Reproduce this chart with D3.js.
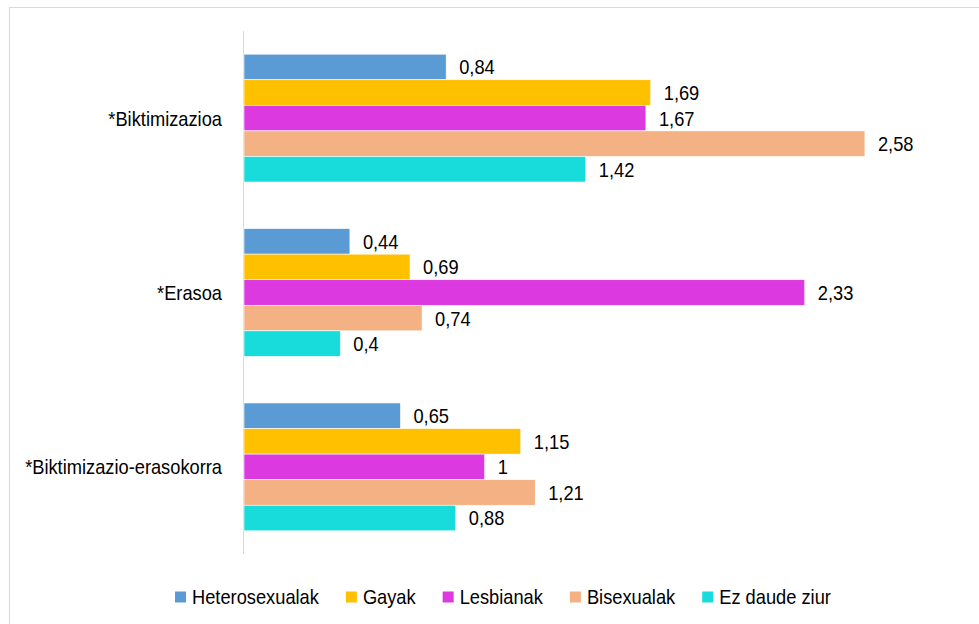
<!DOCTYPE html>
<html>
<head>
<meta charset="utf-8">
<script src="https://cdn.jsdelivr.net/npm/d3@7"></script>
<style>
  html, body { margin: 0; padding: 0; background: #fff; }
  svg { display: block; font-family: "Liberation Sans", Arial, sans-serif; }
</style>
</head>
<body>
<div id="chart"></div>
<script>
const categories = ["*Biktimizazioa", "*Erasoa", "*Biktimizazio-erasokorra"];
const seriesNames = ["Heterosexualak", "Gayak", "Lesbianak", "Bisexualak", "Ez daude ziur"];
const seriesColors = ["#5B9BD5", "#FFC000", "#DC3AE0", "#F4B183", "#18DCDC"];
const heterosexualak = [0.84, 0.44, 0.65];
const gayak = [1.69, 0.69, 1.15];
const lesbianak = [1.67, 2.33, 1.00];
const bisexualak = [2.58, 0.74, 1.21];
const ezDaudeZiur = [1.42, 0.40, 0.88];
const seriesValues = [heterosexualak, gayak, lesbianak, bisexualak, ezDaudeZiur];

const W = 979, H = 624;
const FS = 21, SX = 0.87; // text is drawn a bit narrow, like the original
const fmt = v => String(+v.toFixed(2)).replace(".", ",");

const svg = d3.select("#chart").append("svg").attr("width", W).attr("height", H);

// chart border
svg.append("rect")
  .attr("x", 9.5).attr("y", 7.5).attr("width", W).attr("height", H)
  .attr("fill", "none").attr("stroke", "#d9d9d9");

const x = d3.scaleLinear().domain([0, 3]).range([244, 966]);
const y0 = d3.scaleBand().domain(categories).range([31, 554])
  .paddingInner(0.267).paddingOuter(0.133);
const y1 = d3.scaleBand().domain(seriesNames).range([0, y0.bandwidth()]);

// category axis line
svg.append("line")
  .attr("x1", 243.5).attr("x2", 243.5)
  .attr("y1", 31).attr("y2", 554)
  .attr("stroke", "#d9d9d9");

function label(sel, px, py, txt, anchor) {
  return sel.append("text")
    .attr("transform", `translate(${px},${py}) scale(${SX},1)`)
    .attr("text-anchor", anchor || "start")
    .attr("dominant-baseline", "central")
    .attr("font-size", FS).attr("fill", "#000")
    .text(txt);
}

const groups = svg.selectAll("g.grp").data(categories).join("g")
  .attr("class", "grp")
  .attr("transform", d => `translate(0,${y0(d)})`);

groups.each(function(cat, ci) {
  const g = d3.select(this);
  seriesNames.forEach((s, si) => {
    const v = seriesValues[si][ci];
    g.append("rect")
      .attr("x", x(0)).attr("y", y1(s))
      .attr("width", x(v) - x(0)).attr("height", y1.bandwidth())
      .attr("fill", seriesColors[si])
      .attr("stroke", "#fff").attr("stroke-width", 0.6);
    label(g, x(v) + 13, y1(s) + y1.bandwidth() / 2, fmt(v));
  });
});

// category labels
categories.forEach(c => {
  label(svg, 222, y0(c) + y0.bandwidth() / 2, c, "end");
});

// legend
const legend = svg.append("g").attr("transform", "translate(175,597)");
let lx = 0;
seriesNames.forEach((s, i) => {
  legend.append("rect")
    .attr("x", lx).attr("y", -5.5).attr("width", 11).attr("height", 11)
    .attr("fill", seriesColors[i]);
  const t = label(legend, lx + 17, 0, s);
  lx += 17 + t.node().getComputedTextLength() * SX + 27;
});
</script>
</body>
</html>
